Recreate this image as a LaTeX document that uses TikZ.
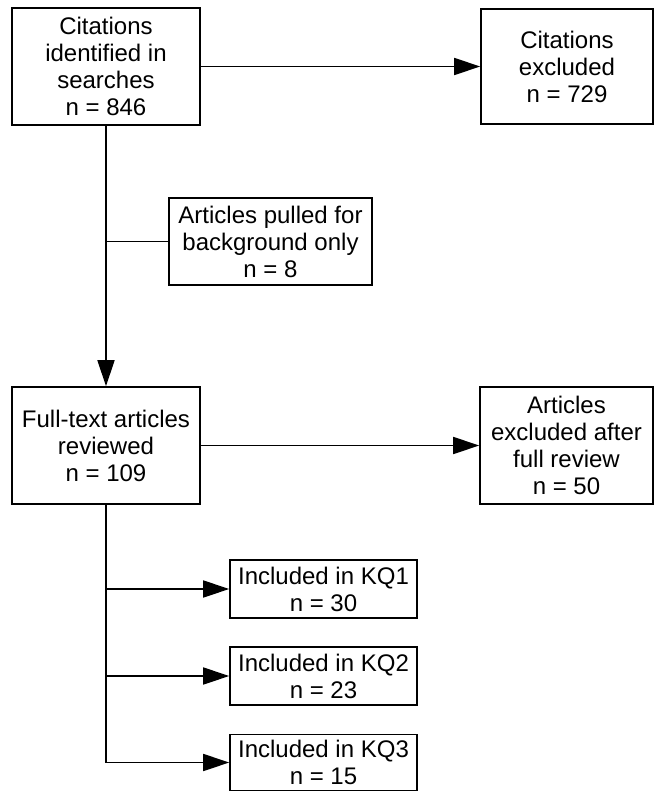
\documentclass[tikz,border=0pt]{standalone}
\usepackage{fontspec}
\setmainfont{Liberation Sans}
\usetikzlibrary{arrows.meta}

\begin{document}
\begin{tikzpicture}[x=1pt, y=-1pt, line width=1.6pt,
    box/.style={draw, rectangle, align=center, inner sep=0pt,
      font=\fontsize{24}{27}\selectfont},
    arr/.style={-{Triangle[length=26pt, width=17pt]}}]
  \useasboundingbox (0,0) rectangle (655,792);
  % upper part
  \node[box, minimum width=188, minimum height=117] (cit) at (106,66.5) {Citations\\identified in\\searches\\n = 846};
  \node[box, minimum width=172, minimum height=115] (citex) at (567,66.5) {Citations\\excluded\\n = 729};
  \node[box, minimum width=203, minimum height=87] (bg) at (270.5,241.5) {Articles pulled for\\background only\\n = 8};
  % full text
  \node[box, minimum width=188, minimum height=117] (full) at (106,445.5) {Full-text articles\\reviewed\\n = 109};
  \node[box, minimum width=173, minimum height=117] (fex) at (566.5,445.5) {Articles\\excluded after\\full review\\n = 50};
  % included by key question
  \node[box, minimum width=187, minimum height=58] (kq1) at (323.5,589) {Included in KQ1\\n = 30};
  \node[box, minimum width=187, minimum height=58] (kq2) at (323.5,676) {Included in KQ2\\n = 23};
  \node[box, minimum width=187, minimum height=56] (kq3) at (323.5,762.5) {Included in KQ3\\n = 15};
  % connectors
  \draw[arr] (cit) -- (citex);
  \draw[arr] (cit) -- (full);
  \draw (bg.west) -- (bg.west -| cit.south);
  \draw[arr] (full) -- (fex);
  \draw[arr] (full.south) |- (kq3.west);
  \draw[arr] (kq1.west -| full.south) -- (kq1.west);
  \draw[arr] (kq2.west -| full.south) -- (kq2.west);
\end{tikzpicture}
\end{document}
